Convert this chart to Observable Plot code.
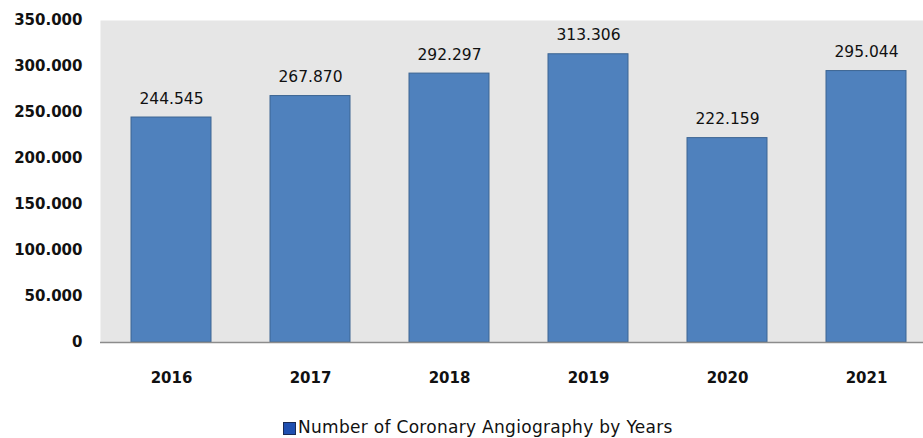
<!DOCTYPE html>
<html>
<head>
<meta charset="utf-8">
<script src="https://cdn.jsdelivr.net/npm/d3@7"></script>
<script src="https://cdn.jsdelivr.net/npm/@observablehq/plot@0.6"></script>
<style>
  html, body { margin: 0; padding: 0; background: #fff; overflow: hidden; }
  #chart svg { display: block; }
  #legend { position: relative; height: 28px; font-family: "DejaVu Sans", Verdana, sans-serif; font-size: 17px; line-height: 19px; color: #111; }
  #legend .sw { position: absolute; left: 283px; top: 12px; width: 11px; height: 11px; background: #1f4fb0; border: 1px solid #1a2a55; }
  #legend .tx { position: absolute; left: 298px; top: 8px; white-space: nowrap; letter-spacing: 0.3px; }
</style>
</head>
<body>
<div id="chart"></div>
<div id="legend"><span class="sw"></span><span class="tx"></span></div>
<script>
const years = ["2016", "2017", "2018", "2019", "2020", "2021"];
const counts = [244545, 267870, 292297, 313306, 222159, 295044];
const yTicks = [0, 50000, 100000, 150000, 200000, 250000, 300000, 350000];
const legendLabel = "Number of Coronary Angiography by Years";

const data = years.map((y, i) => ({year: y, value: counts[i]}));
const fmt = v => v === 0 ? "0" : d3.format(",")(v).replace(/,/g, ".");

const W = 923, H = 410;
const chart = Plot.plot({
  width: W,
  height: H,
  marginTop: 20,
  marginBottom: 68,
  marginLeft: 100,
  marginRight: 0,
  style: {fontFamily: "DejaVu Sans, Verdana, sans-serif", background: "#fff", overflow: "hidden"},
  x: {type: "band", domain: years, range: [100, 936.4], paddingInner: 0.426, paddingOuter: 0.213, label: null},
  y: {domain: [0, 350000], range: [342, 20], label: null},
  marks: [
    Plot.frame({fill: "#e6e6e6", stroke: null}),
    Plot.barY(data, {x: "year", y: "value", fill: "#4f81bd", stroke: "#3c6592", strokeWidth: 1}),
    Plot.ruleX([0], {x: () => 100, frameAnchor: null, stroke: "#8c8c8c", strokeWidth: 1.5}),
    Plot.ruleY([0], {stroke: "#8c8c8c", strokeWidth: 1.5}),
    Plot.axisY({ticks: yTicks, tickFormat: fmt, tickSize: 0, tickPadding: 18, fontSize: 15, fontWeight: "bold", fill: "#111", label: null}),
    Plot.axisX({tickSize: 0, tickPadding: 30, fontSize: 15, fontWeight: "bold", fill: "#111", label: null}),
    Plot.text(data, {x: "year", y: "value", text: d => fmt(d.value), lineAnchor: "bottom", dy: -14, fontSize: 15.5, fill: "#111", style: "letter-spacing:0.5px"})
  ]
});
document.getElementById("chart").appendChild(chart);
document.querySelector("#legend .tx").textContent = legendLabel;
</script>
</body>
</html>
